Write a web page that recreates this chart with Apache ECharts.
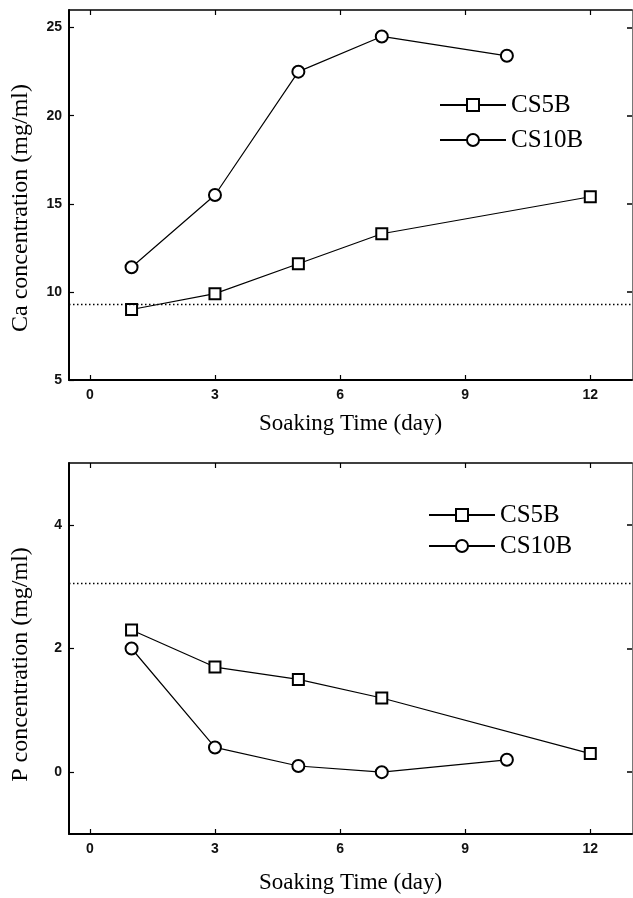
<!DOCTYPE html>
<html>
<head>
<meta charset="utf-8">
<script src="https://cdn.jsdelivr.net/npm/echarts@6/dist/echarts.min.js"></script>
<style>
  html, body { margin: 0; padding: 0; background: #fff; }
  #chart { width: 633px; height: 898px; }
</style>
</head>
<body>
<div id="chart"></div>
<script>
// ---- data ----
const seriesNames = ['CS5B', 'CS10B'];
const daysCS5B = [1, 3, 5, 7, 12];
const daysCS10B = [1, 3, 5, 7, 10];
const caCS5B = [9.0, 9.9, 11.6, 13.3, 15.4];
const caCS10B = [11.4, 15.5, 22.5, 24.5, 23.4];
const pCS5B = [2.3, 1.7, 1.5, 1.2, 0.3];
const pCS10B = [2.0, 0.4, 0.1, 0.0, 0.2];
const caReference = 9.3;
const pReference = 3.05;
const xTicks = [0, 3, 6, 9, 12];
const caTicks = [5, 10, 15, 20, 25];
const pTicks = [0, 2, 4];
const xTitle = 'Soaking Time (day)';
const caTitle = 'Ca concentration (mg/ml)';
const pTitle = 'P concentration (mg/ml)';

const pair = (xs, ys) => xs.map((x, i) => [x, ys[i]]);

const serif = '"Liberation Serif", "Times New Roman", serif';
const sans = '"Liberation Sans", Arial, sans-serif';

function bottomX(gi, gap) {
  return {
    type: 'value', gridIndex: gi, position: 'bottom', min: -0.5, max: 13,
    name: xTitle, nameLocation: 'middle', nameGap: gap,
    nameTextStyle: { fontFamily: serif, fontSize: 23, color: '#000' },
    axisLine: { show: true, onZero: false, lineStyle: { color: '#000', width: 2 } },
    axisTick: { show: true, inside: true, length: 5, customValues: xTicks, lineStyle: { color: '#000', width: 1.2 } },
    axisLabel: { show: true, customValues: xTicks, margin: 8, fontFamily: sans, fontWeight: 'bold', fontSize: 14, color: '#111' },
    splitLine: { show: false }
  };
}
function topX(gi) {
  return {
    type: 'value', gridIndex: gi, position: 'top', min: -0.5, max: 13,
    axisLine: { show: true, onZero: false, lineStyle: { color: '#000', width: 1.5 } },
    axisTick: { show: true, inside: true, length: 5, customValues: xTicks, lineStyle: { color: '#000', width: 1.2 } },
    axisLabel: { show: false },
    splitLine: { show: false }
  };
}
function leftY(gi, min, max, ticks, title, shift) {
  return {
    type: 'value', gridIndex: gi, position: 'left', min: min, max: max,
    name: title, nameLocation: 'middle', nameGap: 36,
    nameTextStyle: { fontFamily: serif, fontSize: 24, color: '#000', padding: [0, shift, 0, 0] },
    axisLine: { show: true, onZero: false, lineStyle: { color: '#000', width: 2 } },
    axisTick: { show: true, inside: true, length: 5, customValues: ticks, lineStyle: { color: '#000', width: 1.2 } },
    axisLabel: { show: true, customValues: ticks, margin: 7, fontFamily: sans, fontWeight: 'bold', fontSize: 14, color: '#111' },
    splitLine: { show: false }
  };
}
function rightY(gi, min, max, ticks) {
  return {
    type: 'value', gridIndex: gi, position: 'right', min: min, max: max,
    axisLine: { show: true, onZero: false, lineStyle: { color: '#777', width: 1 } },
    axisTick: { show: true, inside: true, length: 5, customValues: ticks, lineStyle: { color: '#000', width: 1.5 } },
    axisLabel: { show: false },
    splitLine: { show: false }
  };
}
function lineSeries(name, data, xi, yi, rect, ref) {
  const s = {
    name: name, type: 'line', xAxisIndex: xi, yAxisIndex: yi, data: data,
    symbol: rect ? 'emptyRect' : 'emptyCircle', symbolSize: rect ? 11 : 12,
    showAllSymbol: true,
    lineStyle: { color: '#000', width: 1.2 },
    itemStyle: { color: '#000', borderColor: '#000', borderWidth: 1.3 },
    emphasis: { disabled: true },
    z: 3
  };
  if (ref !== undefined) {
    s.markLine = {
      silent: true, symbol: ['none', 'none'], label: { show: false },
      lineStyle: { color: '#000', width: 1.3, type: [1.5, 2.5] },
      data: [{ yAxis: ref }]
    };
  }
  return s;
}
function legend(left, top, gap) {
  return {
    data: seriesNames, orient: 'vertical', left: left, top: top,
    itemWidth: 66, itemHeight: 15, itemGap: gap,
    selectedMode: false,
    textStyle: { fontFamily: serif, fontSize: 25, color: '#000', lineHeight: 28, padding: [0, 0, 0, 0] }
  };
}

const option = {
  animation: false,
  backgroundColor: '#fff',
  grid: [
    { left: 69, top: 10, width: 563, height: 370 },
    { left: 69, top: 463, width: 563, height: 371 }
  ],
  legend: [legend(434, 86, 7), legend(423, 496, 3)],
  xAxis: [bottomX(0, 32), topX(0), bottomX(1, 37), topX(1)],
  yAxis: [
    leftY(0, 5, 26, caTicks, caTitle, 26), rightY(0, 5, 26, caTicks),
    leftY(1, -1, 5, pTicks, pTitle, 32), rightY(1, -1, 5, pTicks)
  ],
  series: [
    lineSeries('CS5B', pair(daysCS5B, caCS5B), 0, 0, true, caReference),
    lineSeries('CS10B', pair(daysCS10B, caCS10B), 0, 0, false),
    lineSeries('CS5B', pair(daysCS5B, pCS5B), 2, 2, true, pReference),
    lineSeries('CS10B', pair(daysCS10B, pCS10B), 2, 2, false)
  ]
};

const chart = echarts.init(document.getElementById('chart'), null, { renderer: 'canvas' });
chart.setOption(option);
</script>
</body>
</html>
